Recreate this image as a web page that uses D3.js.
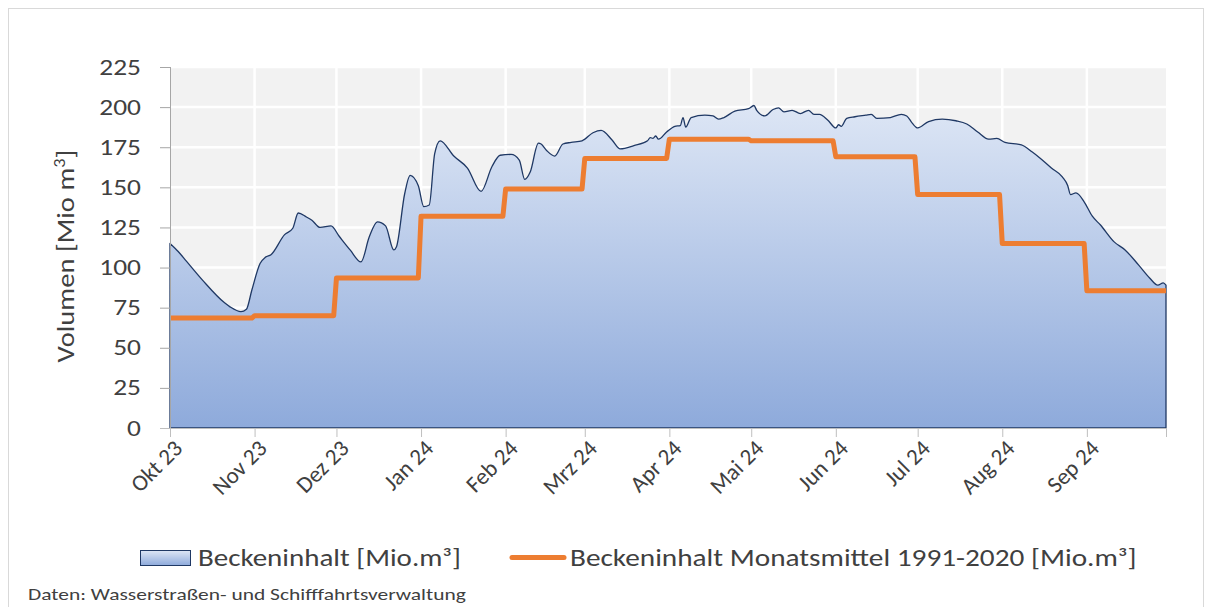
<!DOCTYPE html>
<html>
<head>
<meta charset="utf-8">
<script src="https://cdn.jsdelivr.net/npm/d3@7"></script>
<style>
  body { margin: 0; background: #fff; }
  svg text { font-family: Carlito, Calibri, Lato, sans-serif; fill: #404040; }
</style>
</head>
<body>
<svg id="chart" width="1214" height="607"></svg>
<script>
// Monatsachse: Oktober 2023 bis September 2024
const monthStarts = ["2023-10-01","2023-11-01","2023-12-01","2024-01-01","2024-02-01","2024-03-01",
  "2024-04-01","2024-05-01","2024-06-01","2024-07-01","2024-08-01","2024-09-01"];
const monthLabels = ["Okt 23","Nov 23","Dez 23","Jan 24","Feb 24","Mrz 24",
  "Apr 24","Mai 24","Jun 24","Jul 24","Aug 24","Sep 24"];

// Beckeninhalt Monatsmittel 1991-2020 [Mio.m³]
const meanValues = [68.5, 70, 93.5, 132, 149, 168, 180, 179, 169, 145.5, 115, 85.5];

// Beckeninhalt [Mio.m³] – Tage seit 01.10.2023 und Wert
const volumeDays = [0,3,6,12,20,22,26,28,30,33,35,37,42,45,47,50,52,55,59,62,66,70,73,76,79,82,83,86,88,91,
  93,95,97,99,104,109,114,118,121,125,128,130,132,135,136,138,141,144,147,151,155,158,162,165,170,175,176,177,178,179,
  182,185,187,188,189,191,196,199,201,203,207,212,214,215,218,221,223,225,228,231,234,236,238,241,244,245,246,248,251,255,
  257,259,264,268,270,272,274,278,283,288,292,296,300,303,306,312,316,319,323,327,329,330,332,335,338,341,346,350,355,359,
  362,364,365];
const volumeValues = [115,110,104,92,78,75.5,72.5,74,86,102.5,106.5,108,120.5,124.5,134,131.5,129.5,125,126,119.5,111,103.5,119,128.5,126,111,113,146,157.5,151,
  138,139,171,179,169.5,162,147.5,163,170,170.5,167,155,159.5,177.5,177,173,169.5,177,178,179,184,185.5,179.5,174,176,179,181,180.5,182,180,
  184.5,188,188.5,193.5,187.5,193.5,195,194.5,192.5,193.5,197.5,199,201,198,194.5,198.5,199.5,197,198,196,198,195.5,195.5,192,187,189,188,193,194,195,
  195.5,193,193.5,195.5,194.5,190,187,191,192.5,191.5,189.5,184.5,180,180.5,178,176.5,172,168,162,156.5,151,145.5,146.5,141,132,126.5,116,111,101.5,93.5,
  89,90.5,89];

const yTicks = [0, 25, 50, 75, 100, 125, 150, 175, 200, 225];

const parse = d3.timeParse("%Y-%m-%d");
const start = parse(monthStarts[0]);
const end = parse("2024-09-30");

const svg = d3.select("#chart");

// stretch a text element horizontally (in its own frame) so it is `w` wide
function fitWidth(sel, w) {
  sel.each(function () {
    const bw = this.getBBox().width;
    const t = this.getAttribute("transform") || "";
    this.setAttribute("transform", `${t} scale(${w / bw},1)`);
  });
}

// Rahmen des Diagramms
svg.append("rect")
  .attr("x", 8.5).attr("y", 8.5)
  .attr("width", 1195).attr("height", 640)
  .attr("fill", "none").attr("stroke", "#d9d9d9");

const plot = { left: 170, right: 1166, top: 67, bottom: 428 };

const x = d3.scaleTime().domain([start, end]).range([plot.left, plot.right]);
const y = d3.scaleLinear().domain([0, 225]).range([plot.bottom, plot.top]);

// Hintergrund und Gitter
svg.append("rect")
  .attr("x", plot.left).attr("y", plot.top)
  .attr("width", plot.right - plot.left).attr("height", plot.bottom - plot.top)
  .attr("fill", "#f2f2f2");

const grid = svg.append("g").attr("stroke", "#fff").attr("stroke-width", 2.5);
grid.selectAll("line.h").data(yTicks.slice(1)).join("line")
  .attr("x1", plot.left).attr("x2", plot.right)
  .attr("y1", d => y(d)).attr("y2", d => y(d));
grid.selectAll("line.v").data(monthStarts.slice(1)).join("line")
  .attr("x1", d => x(parse(d))).attr("x2", d => x(parse(d)))
  .attr("y1", plot.top).attr("y2", plot.bottom);

// Verlauf für die Fläche
const defs = svg.append("defs");
const grad = defs.append("linearGradient").attr("id", "blue")
  .attr("x1", 0).attr("y1", 0).attr("x2", 0).attr("y2", 1);
grad.append("stop").attr("offset", "0%").attr("stop-color", "#dde6f5");
grad.append("stop").attr("offset", "100%").attr("stop-color", "#8eaadb");

const volume = volumeDays.map((d, i) => ({ date: d3.timeDay.offset(start, d), value: volumeValues[i] }));

const area = d3.area()
  .x(d => x(d.date))
  .y0(y(0))
  .y1(d => y(d.value))
  .curve(d3.curveMonotoneX);

svg.append("path")
  .datum(volume)
  .attr("d", area)
  .attr("fill", "url(#blue)")
  .attr("stroke", "#1f3864")
  .attr("stroke-width", 1.3)
  .attr("stroke-linejoin", "round");

// Monatsmittel als Stufenlinie (Tageswerte)
const meanPts = [];
monthStarts.forEach((m, i) => {
  const s = parse(m);
  const e = i < monthStarts.length - 1 ? d3.timeDay.offset(parse(monthStarts[i + 1]), -1) : end;
  meanPts.push({ date: s, value: meanValues[i] });
  meanPts.push({ date: e, value: meanValues[i] });
});

svg.append("path")
  .datum(meanPts)
  .attr("d", d3.line().x(d => x(d.date)).y(d => y(d.value)))
  .attr("fill", "none")
  .attr("stroke", "#ed7d31")
  .attr("stroke-width", 5)
  .attr("stroke-linejoin", "round");

// Achsen
const yAxis = svg.append("g")
  .attr("transform", `translate(${plot.left},0)`)
  .call(d3.axisLeft(y).tickValues(yTicks).tickSize(10).tickPadding(0));
yAxis.select(".domain").attr("stroke", "#a6a6a6").attr("d", `M0.5,${plot.top}V${plot.bottom + 9}`);
yAxis.selectAll(".tick line").attr("stroke", "#a6a6a6");
yAxis.selectAll(".tick text")
  .attr("x", null)
  .attr("transform", "translate(-29,0)")
  .attr("font-size", 22).attr("fill", "#404040")
  .each(function () { fitWidth(d3.select(this), 13.9 * this.textContent.length); });

const xAxis = svg.append("g")
  .attr("transform", `translate(0,${plot.bottom})`)
  .call(d3.axisBottom(x).tickValues(monthStarts.map(parse).concat([end])).tickSize(9).tickFormat(""));
xAxis.select(".domain").attr("stroke", "#bfbfbf").attr("d", `M${plot.left - 10},0.5H${plot.right}`);
xAxis.selectAll(".tick line").attr("stroke", "#bfbfbf");

svg.append("g").selectAll("text").data(monthStarts).join("text")
  .attr("transform", d => `translate(${x(parse(d)) + 8},${plot.bottom + 16}) rotate(-45)`)
  .attr("text-anchor", "end")
  .attr("dy", "0.35em")
  .attr("font-size", 23)
  .text((d, i) => monthLabels[i]);

// Achsentitel
const yTitle = svg.append("text")
  .attr("transform", "translate(74,256) rotate(-90)")
  .attr("text-anchor", "middle")
  .attr("font-size", 25);
yTitle.append("tspan").text("Volumen [Mio m");
yTitle.append("tspan").attr("dy", -9).attr("font-size", 16).text("3");
yTitle.append("tspan").attr("dy", 9).text("]");
fitWidth(yTitle, 213);

// Legende
svg.append("rect")
  .attr("x", 140.5).attr("y", 550.5).attr("width", 50).attr("height", 15)
  .attr("fill", "url(#blue)").attr("stroke", "#1f3864").attr("stroke-width", 1);
svg.append("text").attr("transform", "translate(198,566)").attr("font-size", 24)
  .text("Beckeninhalt [Mio.m³]")
  .call(fitWidth, 263);
svg.append("line")
  .attr("x1", 512).attr("x2", 564).attr("y1", 557.5).attr("y2", 557.5)
  .attr("stroke", "#ed7d31").attr("stroke-width", 5).attr("stroke-linecap", "round");
svg.append("text").attr("transform", "translate(570,566)").attr("font-size", 24)
  .text("Beckeninhalt Monatsmittel 1991-2020 [Mio.m³]")
  .call(fitWidth, 567);

// Quelle
svg.append("text").attr("transform", "translate(28,600)").attr("font-size", 17)
  .text("Daten: Wasserstraßen- und Schifffahrtsverwaltung")
  .call(fitWidth, 438);
</script>
</body>
</html>
